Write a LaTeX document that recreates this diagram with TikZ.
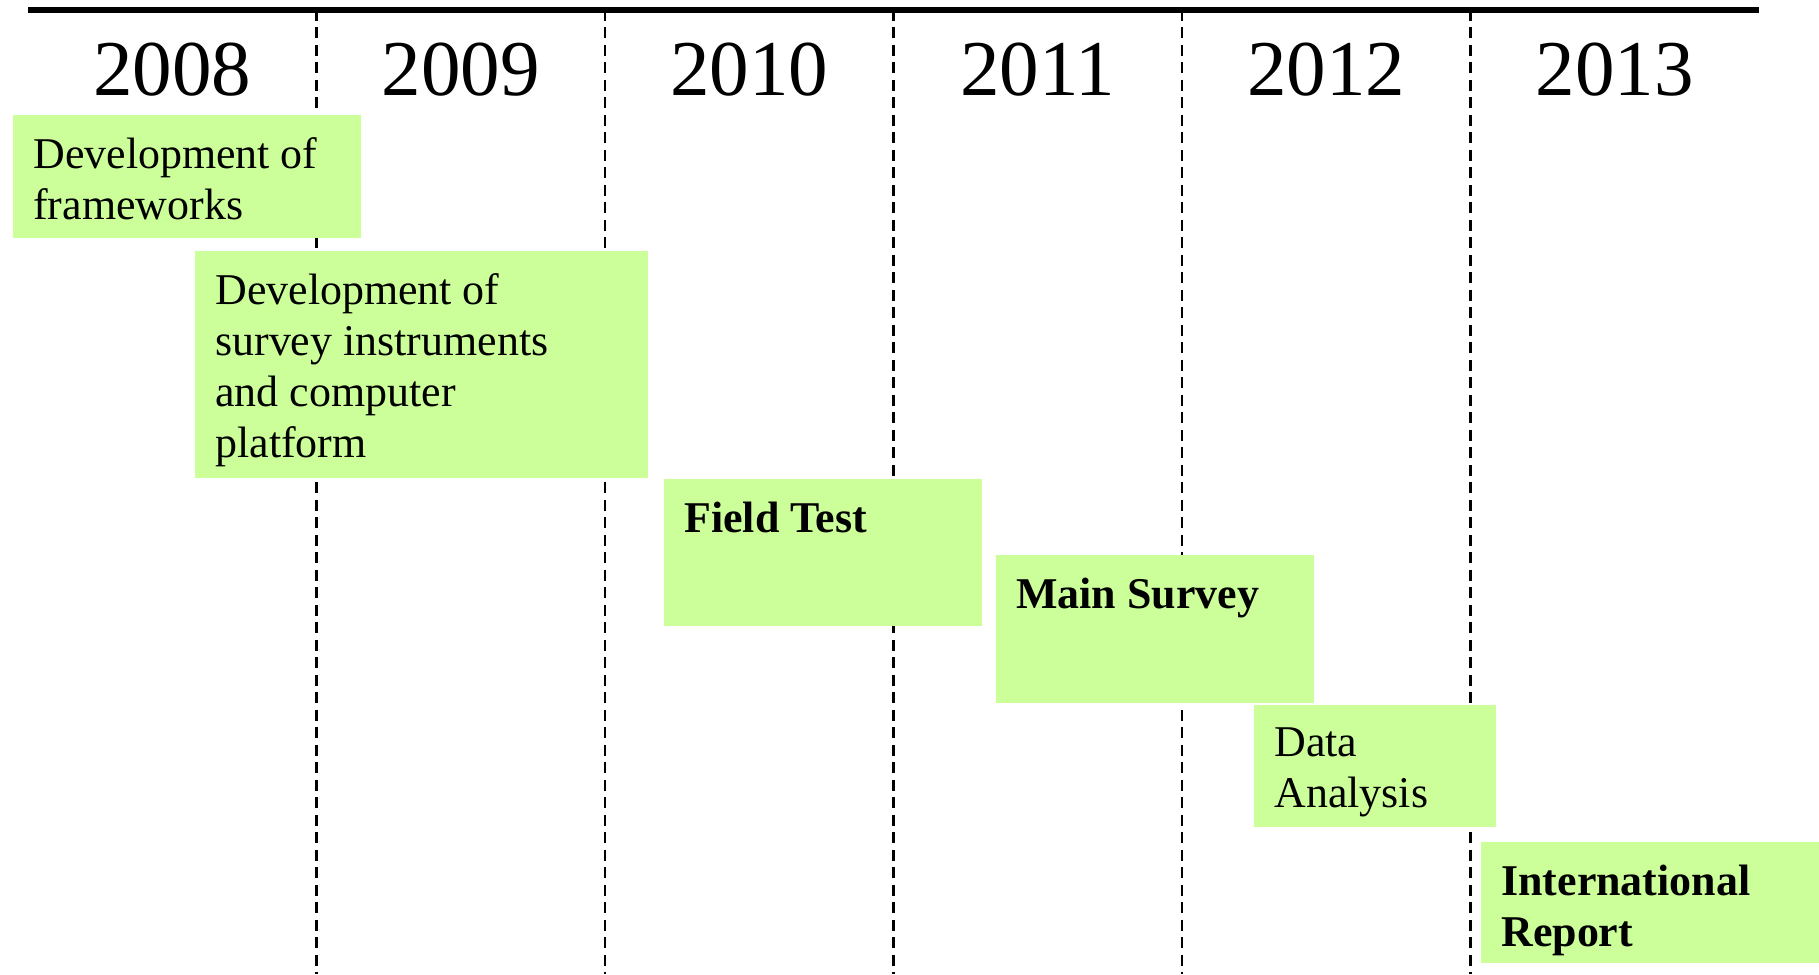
\documentclass[tikz,border=0pt]{standalone}
\usepackage{fontspec}
\setmainfont{Liberation Serif}
\definecolor{taskgreen}{HTML}{CCFF99}

\begin{document}
\begin{tikzpicture}[x=0.02cm,y=-0.02cm,
    task/.style={fill=taskgreen, anchor=north west, inner sep=0pt},
    tasklbl/.style={anchor=north west, inner sep=0pt, align=left, xshift=0.4cm, yshift=-0.45cm,
      font=\fontsize{25}{29}\selectfont},
    yearlbl/.style={font=\fontsize{45}{50}\selectfont, inner sep=0pt}]
        \def\xstart{28}
        \def\colw{288.5}

        \useasboundingbox (0,0) rectangle (1819,974);

        \foreach \i in {1,...,5} {
          \draw[dashed, dash pattern=on 0.22cm off 0.13cm, line width=1.4pt] (\xstart+\colw*\i, 10) -- (\xstart+\colw*\i, 974);
        }
        \draw[line width=3pt] (\xstart, 10) -- (\xstart+6*\colw, 10);

        \foreach \yr [count=\i from 0] in {2008,...,2013} {
          \node[yearlbl] (y\yr) at (\xstart+\colw*\i+\colw/2, 70) {\yr};
        }

        % tasks
        \node[task, minimum width=6.96cm, minimum height=2.46cm] (frame) at (13,115) {};
        \node[tasklbl] (frametxt) at (frame.north west) {Development of\\frameworks};

        \node[task, minimum width=9.06cm, minimum height=4.53cm] (instr) at (195,251) {};
        \node[tasklbl] (instrtxt) at (instr.north west) {Development of\\survey instruments\\and computer\\platform};

        \node[task, minimum width=6.35cm, minimum height=2.94cm] (field) at (664,479) {};
        \node[tasklbl] (fieldtxt) at (field.north west) {\bfseries Field Test};

        \node[task, minimum width=6.35cm, minimum height=2.95cm] (main) at (996,555) {};
        \node[tasklbl] (maintxt) at (main.north west) {\bfseries Main Survey};

        \node[task, minimum width=4.84cm, minimum height=2.44cm] (data) at (1254,705) {};
        \node[tasklbl] (datatxt) at (data.north west) {Data\\Analysis};

        \node[task, minimum width=6.76cm, minimum height=2.42cm] (report) at (1481,842) {};
        \node[tasklbl] (reporttxt) at (report.north west) {\bfseries International\\\bfseries Report};
      \end{tikzpicture}
\end{document}
